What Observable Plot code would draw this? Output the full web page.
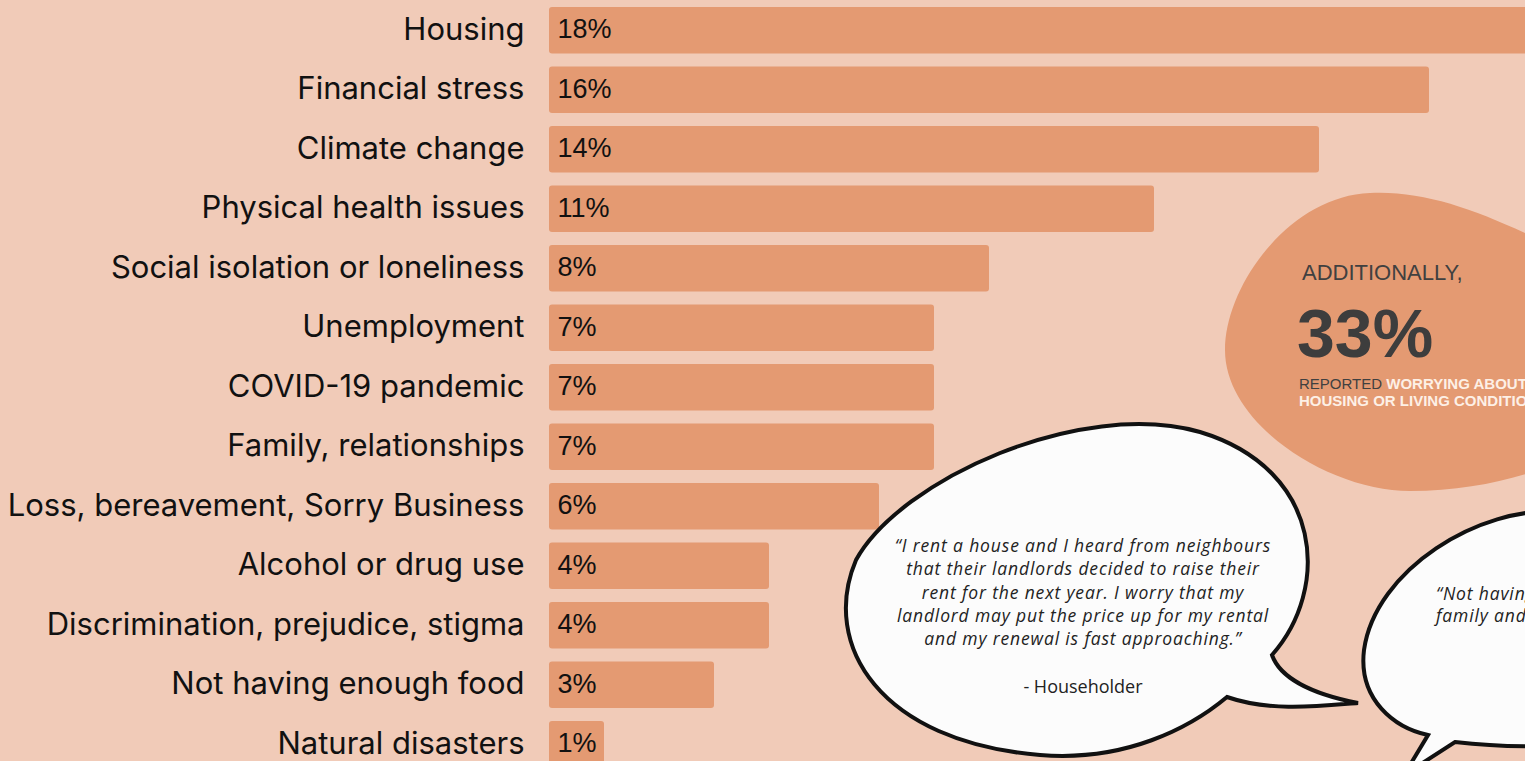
<!DOCTYPE html>
<html>
<head>
<meta charset="utf-8">
<script src="https://cdn.jsdelivr.net/npm/d3@7"></script>
<script src="https://cdn.jsdelivr.net/npm/@observablehq/plot@0.6"></script>
<style>
  html, body { margin: 0; padding: 0; background: #f1cbb8; overflow: hidden; width: 1525px; height: 761px; }
  #chart svg { display: block; }
</style>
</head>
<body>
<div id="chart"></div>
<script>
const categories = [
  "Housing", "Financial stress", "Climate change", "Physical health issues",
  "Social isolation or loneliness", "Unemployment", "COVID-19 pandemic",
  "Family, relationships", "Loss, bereavement, Sorry Business",
  "Alcohol or drug use", "Discrimination, prejudice, stigma",
  "Not having enough food", "Natural disasters"
];
const values = [18, 16, 14, 11, 8, 7, 7, 7, 6, 4, 4, 3, 1];
const valueLabels = ["18%", "16%", "14%", "11%", "8%", "7%", "7%", "7%", "6%", "4%", "4%", "3%", "1%"];

const blobLines = ["ADDITIONALLY,", "33%"];
const blobNote = [["REPORTED ", "WORRYING ABOUT"], ["", "HOUSING OR LIVING CONDITIONS"]];
const quote1 = [
  "“I rent a house and I heard from neighbours",
  "that their landlords decided to raise their",
  "rent for the next year. I worry that my",
  "landlord may put the price up for my rental",
  "and my renewal is fast approaching.”"
];
const quote1By = "- Householder";
const quote2 = ["“Not having", "family and"];

const data = categories.map((c, i) => ({category: c, value: values[i], label: valueLabels[i]}));

const svg = Plot.plot({
  width: 1525,
  height: 761,
  margin: 0,
  style: {background: "transparent", overflow: "hidden"},
  x: {domain: [0, 18], range: [549, 1539], axis: null},
  y: {domain: categories, range: [-6, 780.5], padding: 0.2185, round: false, axis: null},
  marks: [
    Plot.barX(data, {x: "value", y: "category", fill: "#e49a72", rx: 3}),
    Plot.text(data, {x: 0, y: "category", text: "label", textAnchor: "start", dx: 8, dy: -1,
      fontSize: 27, fill: "#111", fontFamily: "Liberation Sans"}),
    Plot.text(data, {x: 0, y: "category", text: "category", textAnchor: "end", dx: -25, dy: -1,
      fontSize: 31, fill: "#111", fontFamily: "Inter"})
  ]
});
document.getElementById("chart").appendChild(svg);

// Decorations (annotation blob and speech bubbles)
const deco = d3.select(svg).append("g").attr("text-anchor", "start");

// Blob
deco.append("path")
  .attr("d", "M 1560,250 C 1490,215 1430,190 1370,193 C 1290,196 1225,285 1225,350 C 1225,425 1330,491 1410,491 C 1470,491 1520,478 1560,462 Z")
  .attr("fill", "#e49a72");
deco.append("text").attr("x", 1302).attr("y", 280)
  .attr("font-family", "Liberation Sans").attr("font-size", 22).attr("fill", "#404040")
  .text(blobLines[0]);
deco.append("text").attr("x", 1297).attr("y", 357)
  .attr("font-family", "Liberation Sans").attr("font-weight", "bold").attr("font-size", 68).attr("fill", "#3d3d3d")
  .text(blobLines[1]);
blobNote.forEach((pair, i) => {
  const t = deco.append("text").attr("x", 1299).attr("y", 389 + i * 16.5)
    .attr("font-family", "Liberation Sans").attr("font-size", 15);
  if (pair[0]) t.append("tspan").attr("fill", "#404040").text(pair[0]);
  t.append("tspan").attr("fill", "#fdf0e6").attr("font-weight", "bold").text(pair[1]);
});

// Speech bubble 1
deco.append("path")
  .attr("d", "M 1272,655 C 1330,590 1325,470 1200,432 C 1080,398 900,480 856,560 C 820,645 880,742 1040,755 C 1125,762 1190,728 1227,697 C 1270,712 1320,706 1358,703 C 1312,694 1280,678 1272,655 Z")
  .attr("fill", "#fcfcfc").attr("stroke", "#111").attr("stroke-width", 4).attr("stroke-linejoin", "miter");
quote1.forEach((line, i) => {
  deco.append("text").attr("x", 1083).attr("y", 552 + i * 23.3)
    .attr("text-anchor", "middle").attr("font-family", "Open Sans").attr("font-style", "italic")
    .attr("font-size", 17.5).attr("letter-spacing", 0.85).attr("fill", "#222").text(line);
});
deco.append("text").attr("x", 1083).attr("y", 693)
  .attr("text-anchor", "middle").attr("font-family", "Open Sans")
  .attr("font-size", 18).attr("fill", "#222").text(quote1By);

// Speech bubble 2 (partially off-canvas)
deco.append("path")
  .attr("d", "M 1560,512 C 1480,505 1375,570 1364,650 C 1358,700 1395,728 1428,735 L 1404,775 L 1455,742 C 1490,746 1530,747 1560,746 Z")
  .attr("fill", "#fcfcfc").attr("stroke", "#111").attr("stroke-width", 4).attr("stroke-linejoin", "miter");
quote2.forEach((line, i) => {
  deco.append("text").attr("x", 1436).attr("y", 600 + i * 22)
    .attr("font-family", "Open Sans").attr("font-style", "italic")
    .attr("font-size", 17.5).attr("letter-spacing", 0.85).attr("fill", "#222").text(line);
});
</script>
</body>
</html>
